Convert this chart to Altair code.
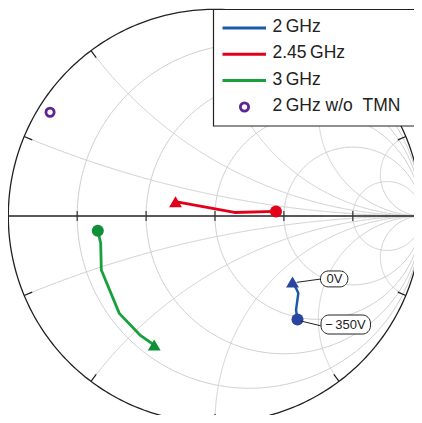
import numpy as np
import pandas as pd
import altair as alt

# ---------------- data (reflection coefficient, real / imag) ----------------
red_re = [-0.191, 0.094, 0.295]
red_im = [0.069, 0.017, 0.022]
green_re = [-0.567, -0.553, -0.550, -0.463, -0.363, -0.294]
green_im = [-0.071, -0.132, -0.261, -0.471, -0.576, -0.624]
blue_re = [0.375, 0.395, 0.403, 0.392, 0.399]
blue_im = [-0.319, -0.355, -0.374, -0.455, -0.501]
purple_re = [-0.798]
purple_im = [0.502]

series_names = ["2\u2009GHz", "2.45\u2009GHz", "3\u2009GHz", "2\u2009GHz w/o\u00a0\u00a0TMN"]
series_colors = ["#1c5aa8", "#e3001b", "#17a03c", "#5e2590"]
marker_colors = ["#2a45a0", "#e3001b", "#0f9038", "#5e2590"]

ann_text = ["0V", "\u2212\u2009350V"]
ann_re = [0.578, 0.631]
ann_im = [-0.305, -0.527]
ann_box_re = [0.510, 0.513]
ann_box_re2 = [0.643, 0.752]
ann_box_im = [-0.266, -0.479]
ann_box_im2 = [-0.343, -0.571]
lead_re = [0.395, 0.415]
lead_im = [-0.321, -0.508]
lead_re2 = [0.511, 0.511]
lead_im2 = [-0.305, -0.531]

grid_r = [0.2, 0.5, 1, 2, 5]
grid_x = [0.2, 0.5, 1, 2, 5]

# ---------------- scales ----------------
W, H = 406, 407
PX = 206.7
xs = alt.Scale(domain=[-207 / PX, (W - 207) / PX], nice=False, zero=False)
ys = alt.Scale(domain=[(208 - H) / PX, 208 / PX], nice=False, zero=False)
X = lambda f: alt.X(f, type="quantitative", scale=xs, axis=None)
Y = lambda f: alt.Y(f, type="quantitative", scale=ys, axis=None)

# ---------------- Smith grid ----------------
rows = []
th = np.linspace(0, 2 * np.pi, 361)
for r in grid_r:
    c, rad = r / (1 + r), 1 / (1 + r)
    for i, t in enumerate(th):
        rows.append(dict(cid=f"r{r}", i=i, gx=c + rad * np.cos(t), gy=rad * np.sin(t)))
tt = np.linspace(0, np.pi / 2, 400)[:-1]
for xv in grid_x:
    for s in (1, -1):
        for i, t in enumerate(tt):
            z = np.tan(t) + 1j * s * xv
            g = (z - 1) / (z + 1)
            rows.append(dict(cid=f"x{s*xv}", i=i, gx=g.real, gy=g.imag))
        rows.append(dict(cid=f"x{s*xv}", i=len(tt), gx=1.0, gy=0.0))
grid_df = pd.DataFrame(rows)

outer_df = pd.DataFrame(dict(i=range(len(th)), gx=np.cos(th), gy=np.sin(th)))

grid = alt.Chart(grid_df).mark_line(color="#cfcfcf", strokeWidth=1).encode(
    x=X("gx"), y=Y("gy"), detail="cid:N", order="i:Q")
outer = alt.Chart(outer_df).mark_line(color="#222222", strokeWidth=1.3).encode(
    x=X("gx"), y=Y("gy"), order="i:Q")
axis_line = alt.Chart(pd.DataFrame(dict(a=[-1.0], b=[1.0], z=[0.0]))).mark_rule(
    color="#222222", strokeWidth=1.3).encode(x=X("a"), x2="b", y=Y("z"))

rt = [(r - 1) / (r + 1) for r in grid_r]
rtick_df = pd.DataFrame(dict(a=rt, y1=[-0.024] * len(rt), y2=[0.024] * len(rt)))
rticks = alt.Chart(rtick_df).mark_rule(color="#333333", strokeWidth=1.2).encode(
    x=X("a"), y=Y("y1"), y2="y2")
ot = []
for xv in grid_x:
    for s in (1, -1):
        z = 1j * s * xv
        g = (z - 1) / (z + 1)
        ot.append(dict(a=g.real, b=g.imag, a2=g.real * 0.958, b2=g.imag * 0.958))
otick_df = pd.DataFrame(ot)
oticks = alt.Chart(otick_df).mark_rule(color="#222222", strokeWidth=1.2).encode(
    x=X("a"), y=Y("b"), x2="a2", y2="b2")

# ---------------- data traces ----------------
def trace(re, im, color, mcolor, end_circle_first, width):
    df = pd.DataFrame(dict(i=range(len(re)), gx=re, gy=im))
    line = alt.Chart(df).mark_line(color=color, strokeWidth=width,
                                   strokeJoin="round").encode(
        x=X("gx"), y=Y("gy"), order="i:Q")
    ci = 0 if end_circle_first else len(re) - 1
    ti = len(re) - 1 if end_circle_first else 0
    circ = alt.Chart(df.iloc[[ci]]).mark_point(shape="circle", filled=True, size=145,
                                               color=mcolor, opacity=1).encode(
        x=X("gx"), y=Y("gy"))
    tri = alt.Chart(df.iloc[[ti]]).mark_point(shape="triangle-up", filled=True, size=165,
                                              color=mcolor, opacity=1).encode(
        x=X("gx"), y=Y("gy"))
    return [line, circ, tri]

layers = [grid, outer, axis_line, rticks, oticks]
layers += trace(red_re, red_im, series_colors[1], marker_colors[1], False, 2.8)
layers += trace(green_re, green_im, series_colors[2], marker_colors[2], True, 2.8)
layers += trace(blue_re, blue_im, series_colors[0], marker_colors[0], False, 2.5)

purple = alt.Chart(pd.DataFrame(dict(gx=purple_re, gy=purple_im))).mark_point(
    shape="circle", filled=False, size=68, strokeWidth=2.8, color=marker_colors[3],
    opacity=1).encode(x=X("gx"), y=Y("gy"))
layers.append(purple)

ann_df = pd.DataFrame(dict(t=ann_text, gx=ann_re, gy=ann_im, bx=ann_box_re, bx2=ann_box_re2,
                           by=ann_box_im, by2=ann_box_im2, lx=lead_re, ly=lead_im,
                           lx2=lead_re2, ly2=lead_im2))
leads = alt.Chart(ann_df).mark_rule(color="#222222", strokeWidth=1).encode(
    x=X("lx"), y=Y("ly"), x2="lx2", y2="ly2")
boxes = alt.Chart(ann_df).mark_rect(fill="white", stroke="#222222", strokeWidth=1,
                                    cornerRadius=8).encode(
    x=X("bx"), x2="bx2", y=Y("by"), y2="by2")
texts = alt.Chart(ann_df).mark_text(font="Liberation Sans", fontSize=13, color="#222222",
                                    align="center", baseline="middle").encode(
    x=X("gx"), y=Y("gy"), text="t:N")
layers += [leads, boxes, texts]

# ---------------- legend (drawn by hand) ----------------
one = pd.DataFrame(dict(k=[0]))
layers.append(alt.Chart(one).mark_rect(fill="white", stroke="#222222", strokeWidth=1.2).encode(
    x=alt.value(205.5), x2=alt.value(430), y=alt.value(1.5), y2=alt.value(118)))
row_y = [20, 46.3, 72.5, 99]
for k in range(4):
    if k < 3:
        layers.append(alt.Chart(one).mark_rule(color=series_colors[k], strokeWidth=3).encode(
            x=alt.value(214.5), x2=alt.value(258), y=alt.value(row_y[k])))
    else:
        layers.append(alt.Chart(one).mark_point(shape="circle", filled=False, size=68,
                                                strokeWidth=2.8, color=marker_colors[3],
                                                opacity=1).encode(
            x=alt.value(236.5), y=alt.value(row_y[k])))
    layers.append(alt.Chart(one).mark_text(font="Liberation Sans", fontSize=17.5, color="#222222",
                                           align="left", baseline="middle").encode(
        x=alt.value(264.5), y=alt.value(row_y[k] - 1), text=alt.value(series_names[k])))

chart = alt.layer(*layers).properties(
    width=W, height=H, padding=0, autosize=alt.AutoSizeParams(type="none")
).configure_view(stroke=None)

chart.save("out.html", embed_options={"renderer": "svg", "actions": False})
